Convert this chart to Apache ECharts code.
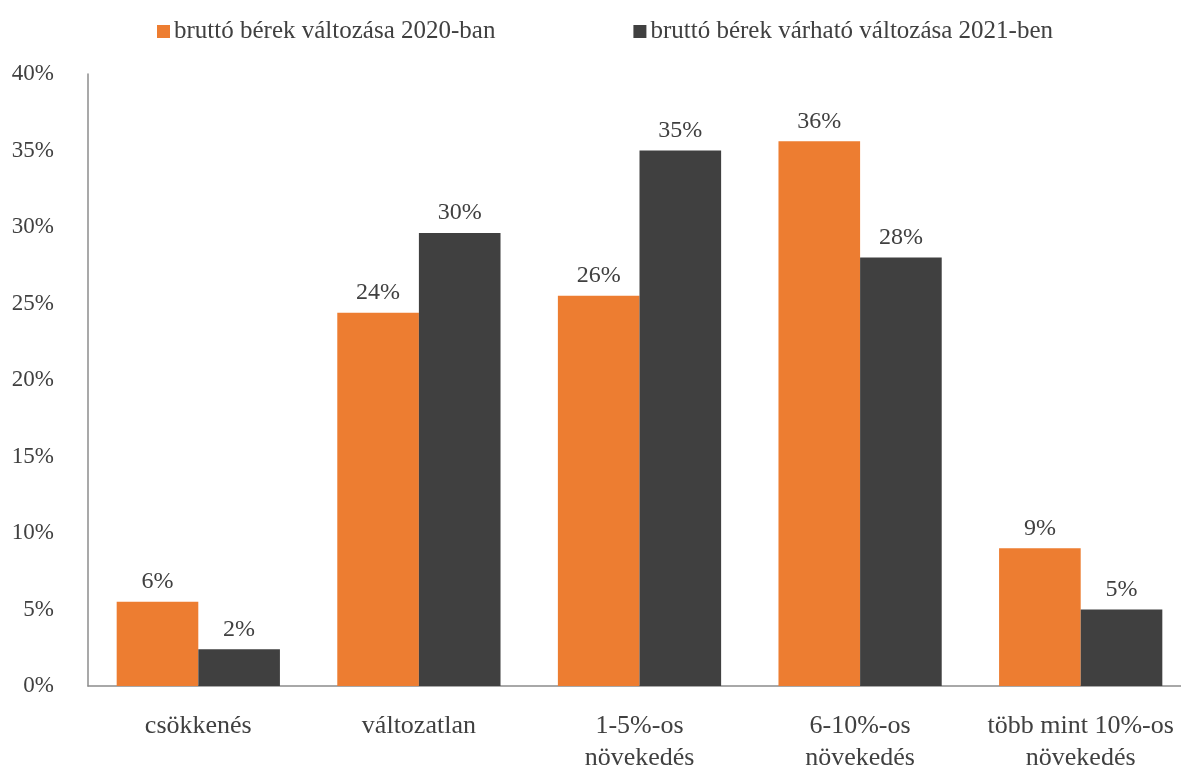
<!DOCTYPE html>
<html>
<head>
<meta charset="utf-8">
<script src="https://cdn.jsdelivr.net/npm/echarts@6/dist/echarts.min.js"></script>
<style>
  html, body { margin: 0; padding: 0; background: #fff; overflow: hidden; }
  #chart { width: 1181px; height: 771px; }
</style>
</head>
<body>
<div id="chart"></div>
<script>
  // kategóriák és adatsorok
  const categories = ['csökkenés', 'változatlan', '1-5%-os\nnövekedés', '6-10%-os\nnövekedés', 'több mint 10%-os\nnövekedés'];
  const seriesNames = ['bruttó bérek változása 2020-ban', 'bruttó bérek várható változása 2021-ben'];
  const values2020 = [5.5, 24.4, 25.5, 35.6, 9.0];
  const values2021 = [2.4, 29.6, 35.0, 28.0, 5.0];
  const yTicks = [0, 5, 10, 15, 20, 25, 30, 35, 40];

  const font = 'Liberation Serif';
  const textColor = '#404040';

  const chart = echarts.init(document.getElementById('chart'));

  const label = {
    show: true,
    position: 'top',
    distance: 8,
    color: textColor,
    fontFamily: font,
    fontSize: 24,
    formatter: p => Math.round(p.value) + '%'
  };

  chart.setOption({
    animation: false,
    color: ['#ED7D31', '#404040'],
    legend: {
      top: 14,
      left: 152,
      itemWidth: 13,
      itemHeight: 13,
      itemGap: 138,
      icon: 'rect',
      textStyle: { color: textColor, fontFamily: font, fontSize: 25, padding: [0, 0, 0, -1] },
      data: seriesNames
    },
    grid: {
      left: 88,
      top: 74,
      width: 1103,
      height: 612,
      containLabel: false,
      outerBoundsMode: 'none'
    },
    xAxis: {
      type: 'category',
      data: categories,
      axisLine: { lineStyle: { color: '#8c8c8c', width: 1.5 } },
      axisTick: { show: false },
      axisLabel: {
        color: textColor,
        fontFamily: font,
        fontSize: 26,
        lineHeight: 32,
        margin: 24,
        interval: 0
      }
    },
    yAxis: {
      type: 'value',
      min: yTicks[0],
      max: yTicks[yTicks.length - 1],
      interval: 5,
      splitLine: { show: false },
      axisLine: { show: true, lineStyle: { color: '#8c8c8c', width: 1.5 } },
      axisTick: { show: false },
      axisLabel: {
        color: textColor,
        fontFamily: font,
        fontSize: 23,
        margin: 34,
        formatter: v => v + '%'
      }
    },
    series: [
      {
        name: seriesNames[0],
        type: 'bar',
        data: values2020,
        barWidth: '37%',
        barGap: '0%',
        label: label
      },
      {
        name: seriesNames[1],
        type: 'bar',
        data: values2021,
        barWidth: '37%',
        barGap: '0%',
        label: label
      }
    ]
  });
</script>
</body>
</html>
